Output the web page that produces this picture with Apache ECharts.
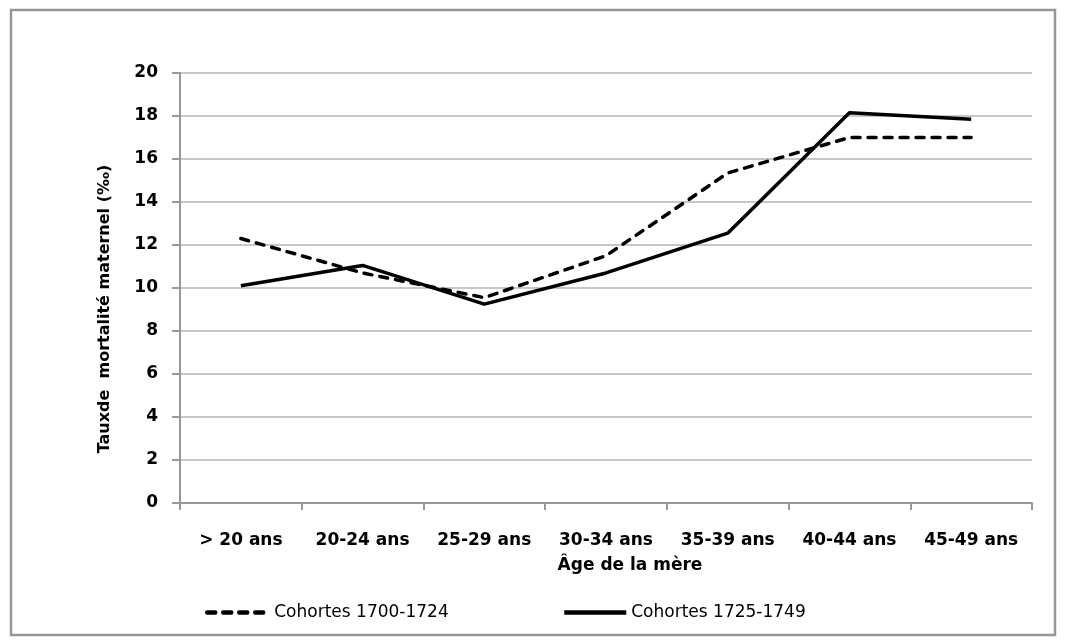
<!DOCTYPE html>
<html><head><meta charset="utf-8">
<script src="https://cdn.jsdelivr.net/npm/echarts@6/dist/echarts.min.js"></script>
<style>html,body{margin:0;padding:0;background:#fff}#c{width:1066px;height:643px}</style>
</head><body><div id="c"></div>
<script>
const categories = ["> 20 ans","20-24 ans","25-29 ans","30-34 ans","35-39 ans","40-44 ans","45-49 ans"];
const cohort1700 = [12.3, 10.7, 9.55, 11.5, 15.35, 17.0, 17.0];
const cohort1725 = [10.1, 11.05, 9.25, 10.7, 12.55, 18.15, 17.85];
const yTicks = [0,2,4,6,8,10,12,14,16,18,20];
const seriesNames = ["Cohortes 1700-1724","Cohortes 1725-1749"];
const FONT = "'DejaVu Sans', sans-serif";

const chart = echarts.init(document.getElementById('c'), null, {renderer:'canvas'});
chart.setOption({
  animation:false,
  backgroundColor:'#fff',
  graphic:[{type:'rect', shape:{x:11,y:10,width:1044,height:625}, style:{fill:'none', stroke:'#969696', lineWidth:2.5}, silent:true}],
  grid:{left:180, right:34, top:73, bottom:140},
  legend:[
    {data:[seriesNames[0]], left:200, top:599, itemWidth:62, itemHeight:14, itemGap:2,
     itemStyle:{opacity:0, borderWidth:0}, lineStyle:{width:4.5},
     textStyle:{fontFamily:FONT, fontSize:17, color:'#000'}},
    {data:[seriesNames[1]], left:557, top:599, itemWidth:62, itemHeight:14, itemGap:2,
     itemStyle:{opacity:0, borderWidth:0}, lineStyle:{width:4.5},
     textStyle:{fontFamily:FONT, fontSize:17, color:'#000'}}
  ],
  xAxis:{
    type:'category', data:categories, boundaryGap:true,
    name:'Âge de la mère', nameLocation:'middle', nameGap:54,
    nameTextStyle:{fontFamily:FONT, fontSize:17, fontWeight:'bold', color:'#000', padding:[0,0,0,48]},
    axisLine:{lineStyle:{color:'#999', width:2}},
    axisTick:{show:true, length:7, lineStyle:{color:'#999', width:2}},
    axisLabel:{fontFamily:FONT, fontSize:17, fontWeight:'bold', color:'#000', margin:29, interval:0},
    splitLine:{show:false}
  },
  yAxis:{
    type:'value', min:0, max:20, interval:2,
    name:'Tauxde  mortalité maternel (‰)', nameLocation:'middle', nameGap:67, nameRotate:90,
    nameTextStyle:{fontFamily:FONT, fontSize:16, fontWeight:'bold', color:'#000', padding:[0,42,0,0]},
    axisLine:{show:true, lineStyle:{color:'#999', width:2}},
    axisTick:{show:true, length:8, lineStyle:{color:'#999', width:2}},
    axisLabel:{fontFamily:FONT, fontSize:17, fontWeight:'bold', color:'#000', margin:22,
      formatter:v=> yTicks.includes(v) ? String(v) : ''},
    splitLine:{show:true, lineStyle:{color:'#b4b4b4', width:1.5}}
  },
  series:[
    {name:seriesNames[0], type:'line', data:cohort1700, symbol:'none',
     lineStyle:{color:'#000', width:3.5, type:[8,8], cap:'round'}, itemStyle:{color:'#000'}},
    {name:seriesNames[1], type:'line', data:cohort1725, symbol:'none',
     lineStyle:{color:'#000', width:3.5, type:'solid'}, itemStyle:{color:'#000'}}
  ]
});
</script></body></html>
